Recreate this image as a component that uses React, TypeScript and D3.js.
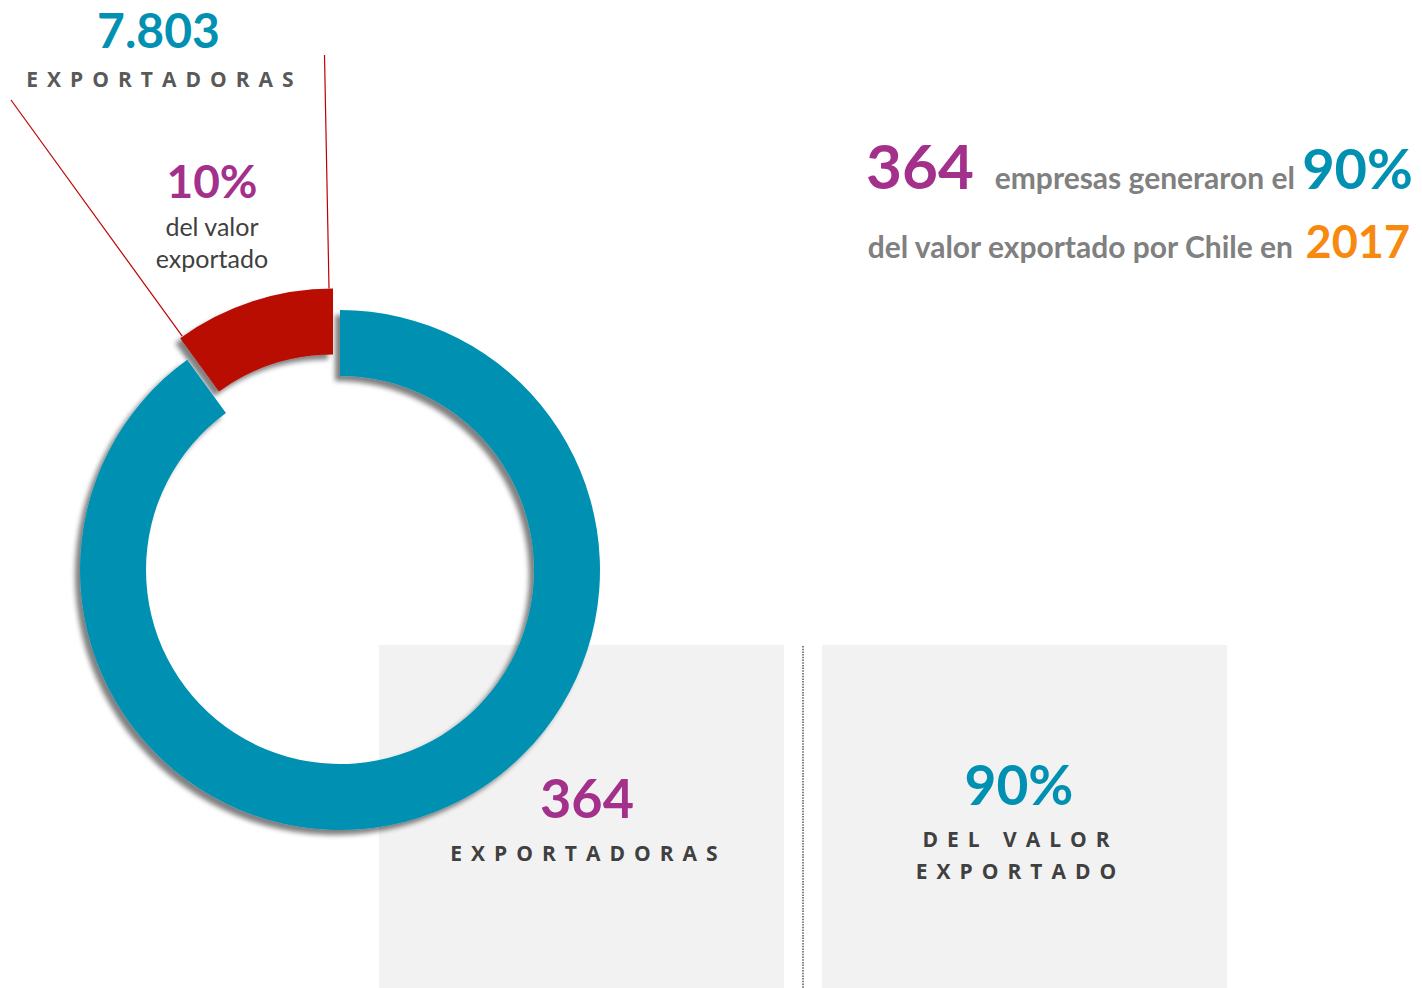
import React from 'react';
import * as d3 from 'd3';

// ---- data ----
const segmentNames = ['364 exportadoras', '7.803 exportadoras'];
const shareOfValue = [90, 10];
const exporterCounts = ['364', '7.803'];
const segmentColors = ['#0091b2', '#b80900'];
const headerYear = '2017';

const W = 1422;
const H = 988;

const calibri = "Lato, 'Open Sans', sans-serif";
const spaced = "'Open Sans', sans-serif";

function Spaced({ x, y, text, size, spacing, color }: any) {
  return (
    <text
      x={x + spacing / 2}
      y={y}
      textAnchor="middle"
      fontFamily={spaced}
      fontWeight={700}
      fontSize={size}
      letterSpacing={spacing}
      fill={color}
    >
      {text}
    </text>
  );
}

export default function App() {
  const cx = 340;
  const cy = 570;
  const rOuter = 260;
  const rInner = 194;
  const explode = 22.6;

  const pie = d3
    .pie<number>()
    .value((d) => d)
    .sort(null)
    .startAngle(0)
    .endAngle(2 * Math.PI);
  const arcs = pie(shareOfValue);
  const arc = d3.arc<d3.PieArcDatum<number>>().innerRadius(rInner).outerRadius(rOuter);

  const offsets = arcs.map((a, i) => {
    if (i === 0) return [0, 0];
    const m = (a.startAngle + a.endAngle) / 2;
    return [Math.sin(m) * explode, -Math.cos(m) * explode];
  });

  const red = arcs[1];
  const [ox, oy] = offsets[1];
  const cornerStart = [cx + ox + Math.sin(red.startAngle) * rOuter, cy + oy - Math.cos(red.startAngle) * rOuter];
  const cornerEnd = [cx + ox + Math.sin(red.endAngle) * rOuter - 4, cy + oy - Math.cos(red.endAngle) * rOuter];

  return (
    <svg width={W} height={H} style={{ position: 'absolute', left: 0, top: 0, background: '#fff' }}>
      <defs>
        <filter id="shadow" x="-20%" y="-20%" width="140%" height="140%">
          <feGaussianBlur in="SourceAlpha" stdDeviation="2.5" />
          <feOffset dx="-5" dy="5" result="ob" />
          <feComponentTransfer>
            <feFuncA type="linear" slope="0.5" />
          </feComponentTransfer>
          <feMerge>
            <feMergeNode />
            <feMergeNode in="SourceGraphic" />
          </feMerge>
        </filter>
      </defs>

      {/* grey panels */}
      <rect x={379} y={645} width={405} height={343} fill="#f2f2f2" />
      <rect x={822} y={645} width={405} height={343} fill="#f2f2f2" />
      <line x1={803} y1={646} x2={803} y2={988} stroke="#808080" strokeWidth={2} strokeDasharray="1.5 1.2" />

      {/* leader lines */}
      <line x1={11} y1={100} x2={cornerStart[0] + 2} y2={cornerStart[1] - 2} stroke="#c00000" strokeWidth={1.2} />
      <line x1={324.5} y1={55} x2={cornerEnd[0]} y2={cornerEnd[1]} stroke="#c00000" strokeWidth={1.2} />

      {/* donut */}
      <g filter="url(#shadow)">
        {arcs.map((a, i) => (
          <path
            key={segmentNames[i]}
            d={arc(a) || ''}
            transform={`translate(${cx + offsets[i][0]},${cy + offsets[i][1]})`}
            fill={segmentColors[i]}
          />
        ))}
      </g>

      {/* top-left labels */}
      <text x={158.5} y={48} textAnchor="middle" fontFamily={calibri} fontWeight={700} fontSize={48} fill={segmentColors[0]}>
        {exporterCounts[1]}
      </text>
      <Spaced x={160} y={87} text="EXPORTADORAS" size={21} spacing={9.0} color="#595959" />

      <text x={212} y={198} textAnchor="middle" fontFamily={calibri} fontWeight={700} fontSize={46} fill="#a3308b">
        {shareOfValue[1]}%
      </text>
      <text x={212} y={236} textAnchor="middle" fontFamily={calibri} fontSize={25} fill="#404040">
        del valor
      </text>
      <text x={212} y={268} textAnchor="middle" fontFamily={calibri} fontSize={25} fill="#404040">
        exportado
      </text>

      {/* header */}
      <text x={866} y={189} fontFamily={calibri} fontWeight={700} fontSize={62} fill="#a3308b">
        {exporterCounts[0]}
      </text>
      <text x={1295} y={189} textAnchor="end" fontFamily={calibri} fontWeight={700} fontSize={30} fill="#808080">
        empresas generaron el
      </text>
      <text x={1413} y={189} textAnchor="end" fontFamily={calibri} fontWeight={700} fontSize={56} fill={segmentColors[0]}>
        {shareOfValue[0]}%
      </text>
      <text x={1293} y={258} textAnchor="end" fontFamily={calibri} fontWeight={700} fontSize={30} fill="#808080">
        del valor exportado por Chile en
      </text>
      <text x={1410} y={258} textAnchor="end" fontFamily={calibri} fontWeight={700} fontSize={45} fill="#f7890f">
        {headerYear}
      </text>

      {/* panel 1 */}
      <text x={587} y={818} textAnchor="middle" fontFamily={calibri} fontWeight={700} fontSize={54} fill="#a3308b">
        {exporterCounts[0]}
      </text>
      <Spaced x={584} y={861} text="EXPORTADORAS" size={21} spacing={9.0} color="#404040" />

      {/* panel 2 */}
      <text x={1019} y={805} textAnchor="middle" fontFamily={calibri} fontWeight={700} fontSize={55} fill={segmentColors[0]}>
        {shareOfValue[0]}%
      </text>
      <Spaced x={1016} y={847} text="DEL VALOR" size={21} spacing={9.0} color="#404040" />
      <Spaced x={1016} y={879} text="EXPORTADO" size={21} spacing={9.0} color="#404040" />
    </svg>
  );
}
